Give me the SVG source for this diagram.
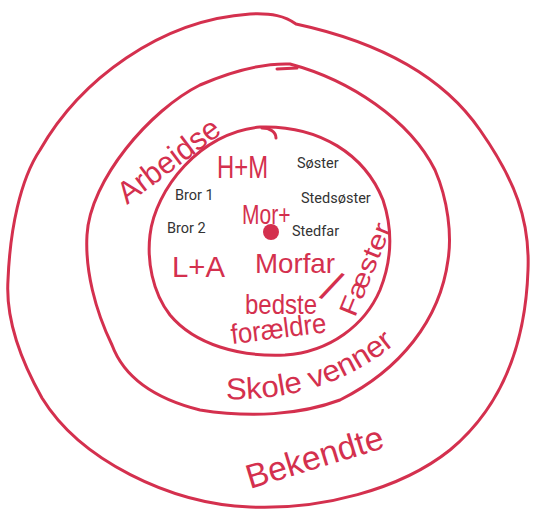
<svg xmlns="http://www.w3.org/2000/svg" width="536" height="509" viewBox="0 0 536 509">
  <style>
    .ring { fill: none; stroke: #d4304e; stroke-width: 3; stroke-linecap: round; stroke-linejoin: round; }
    .hand { fill: #d4304e; font-family: "Liberation Sans", "DejaVu Sans", sans-serif; }
    .typed { fill: #333333; font-family: Roboto, "Liberation Sans", sans-serif; font-size: 14.5px; }
  </style>
  <rect x="0" y="0" width="536" height="509" fill="#ffffff"/>

  <g id="outer-ring">
    <path class="ring" d="M 250 14 C 272 13 285 16 296 24 C 370 40 440 72 480 130 C 515 180 530 220 528 270 C 526 330 510 400 450 450 C 400 490 320 510 250 507 C 170 504 80 460 42 398 C 15 350 6 310 8 280 C 10 230 20 180 40 150 C 80 80 160 20 250 14 Z"/>
    <text class="hand" font-size="34" textLength="142" lengthAdjust="spacingAndGlyphs" transform="translate(250,489) rotate(-17)">Bekendte</text>
  </g>

  <g id="middle-ring">
    <path class="ring" d="M 290 64 C 350 80 410 120 435 170 C 448 200 452 235 448 260 C 440 320 400 370 340 400 C 300 415 250 418 200 410 C 160 400 125 380 112 345 C 95 310 85 270 87 235 C 90 180 150 110 200 85 C 230 72 260 63 290 64 Z"/>
    <path class="ring" d="M 277 69 L 297 68"/>
    <path id="skolePath" d="M 226 399 Q 330 402 402 338" fill="none"/>
    <text class="hand" font-size="30"><textPath href="#skolePath" textLength="182" lengthAdjust="spacingAndGlyphs">Skole venner</textPath></text>
    <text class="hand" font-size="31" textLength="120" lengthAdjust="spacingAndGlyphs" transform="translate(127,205) rotate(-37)">Arbeidse</text>
  </g>

  <g id="inner-ring">
    <path class="ring" d="M 260 127 C 320 125 365 155 383 200 C 393 230 392 260 380 290 C 365 325 330 352 285 355 C 240 357 195 345 170 315 C 152 292 147 260 150 235 C 155 190 200 132 260 127 Z"/>
    <path class="ring" d="M 262 128 C 270 128 276 132 276 138"/>
    <text class="hand" font-size="26" textLength="98" lengthAdjust="spacingAndGlyphs" transform="translate(355,318) rotate(-68)">Fæster</text>
  </g>

  <g id="center">
    <circle cx="271" cy="232" r="8" fill="#d4304e"/>
  </g>

  <g id="family-hand">
    <text class="hand" font-size="32" x="217" y="178" textLength="51" lengthAdjust="spacingAndGlyphs">H+M</text>
    <text class="hand" font-size="21" transform="translate(242,224) scale(1,1.35)">Mor+</text>
    <text class="hand" font-size="29" x="172" y="277" textLength="53" lengthAdjust="spacingAndGlyphs">L+A</text>
    <text class="hand" font-size="28" x="255" y="273" textLength="80" lengthAdjust="spacingAndGlyphs">Morfar</text>
    <text class="hand" font-size="44" transform="translate(319,297) rotate(28)">/</text>
    <text class="hand" font-size="28" x="245" y="314" textLength="72" lengthAdjust="spacingAndGlyphs">bedste</text>
    <text class="hand" font-size="28" textLength="96" lengthAdjust="spacingAndGlyphs" transform="translate(232,344) rotate(-7)">forældre</text>
  </g>

  <g id="family-typed">
    <text class="typed" x="297" y="168">Søster</text>
    <text class="typed" x="301" y="203">Stedsøster</text>
    <text class="typed" x="175" y="200">Bror 1</text>
    <text class="typed" x="167" y="233">Bror 2</text>
    <text class="typed" x="292" y="236">Stedfar</text>
  </g>
</svg>
